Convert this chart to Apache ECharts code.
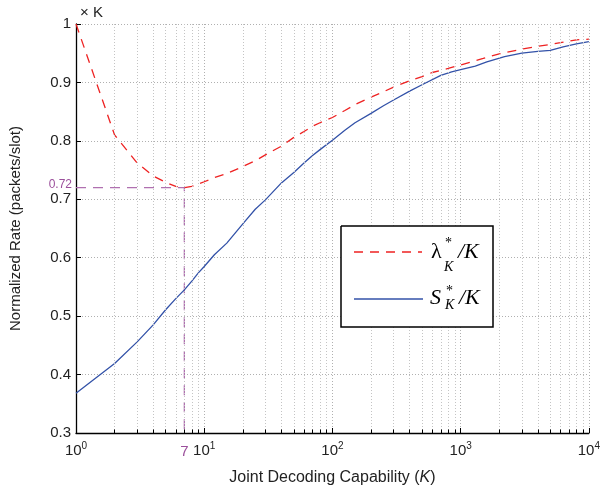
<!DOCTYPE html>
<html>
<head>
<meta charset="utf-8">
<script src="https://cdn.jsdelivr.net/npm/echarts@6/dist/echarts.min.js"></script>
<style>
  html, body { margin: 0; padding: 0; background: #fff; }
  #chart { width: 603px; height: 491px; }
</style>
</head>
<body>
<div id="chart"></div>
<script>
// Joint decoding capability K (log scale)
const kValues = [1, 2, 3, 4, 5, 6, 7, 8, 9, 10, 12, 15, 20, 25, 30, 40, 50, 60, 70, 80, 100,
  125, 150, 200, 250, 300, 400, 500, 600, 800, 1000, 1500, 2000, 3000, 4000, 5000, 6000, 8000, 10000];

// lambda*_K / K  (normalized maximum arrival rate)
const lambdaNorm = [1.000, 0.810, 0.762, 0.740, 0.729, 0.722, 0.720, 0.722, 0.726, 0.730, 0.737, 0.744,
  0.756, 0.766, 0.776, 0.791, 0.806, 0.816, 0.825, 0.831, 0.840,
  0.852, 0.862, 0.875, 0.884, 0.892, 0.903, 0.910, 0.917, 0.924, 0.930, 0.941, 0.949, 0.957, 0.962,
  0.965, 0.968, 0.973, 0.974];

// S*_K / K  (normalized throughput)
const throughputK = [1, 2, 3, 4, 5, 6, 7, 8, 9, 10, 12, 15, 20, 25, 30, 40, 50, 60, 70, 80, 100,
  125, 150, 200, 250, 300, 400, 500, 700, 850, 1000, 1300, 1600, 2200, 3000, 4000, 5000, 6300, 8000, 10000];
const throughputNorm = [0.368, 0.419, 0.456, 0.485, 0.511, 0.530, 0.545, 0.560, 0.574, 0.585, 0.605, 0.625,
  0.658, 0.683, 0.699, 0.728, 0.746, 0.762, 0.775, 0.785, 0.801,
  0.818, 0.831, 0.847, 0.860, 0.870, 0.885, 0.896, 0.912, 0.918, 0.922, 0.928, 0.935, 0.944, 0.950,
  0.953, 0.955, 0.961, 0.966, 0.970];

// Minimum of lambda*_K / K
const minK = 7;
const minRate = 0.72;

// Axis ranges and minor log ticks
const yMin = 0.3, yMax = 1, yStep = 0.1;
const xMin = 1, xMax = 10000;
const minorX = [2, 3, 4, 5, 6, 7, 8, 9, 20, 30, 40, 50, 60, 70, 80, 90,
  200, 300, 400, 500, 600, 700, 800, 900, 2000, 3000, 4000, 5000, 6000, 7000, 8000, 9000];

const pair = (xs, ys) => xs.map((x, i) => [x, ys[i]]);

const FONT = 'Liberation Sans';
const TXT = '#222';
const PURPLE = '#9b4f9b';
const RED = '#ee2222';
const BLUE = '#3352a8';

const chart = echarts.init(document.getElementById('chart'), null, { renderer: 'canvas' });

const gridDot = { color: '#b0b0b0', width: 1, type: [1, 2] };

const minorGrid = minorX.map(v => ({ xAxis: v }));
const minorTickMarks = minorX.map(v => [
  { coord: [v, yMin], lineStyle: { color: '#000', type: 'solid', width: 1 } },
  { coord: [v, yMin + 0.006] }
]);

// Legend box drawn on top of the plot
const LEG = { x: 341, y: 226, w: 152, h: 101 };
const serif = (size, italic) => (italic ? 'italic ' : '') + size + 'px "Liberation Serif"';
const legendText = (text, dx, dy, font) => ({
  type: 'text', z: 101, x: LEG.x + dx, y: LEG.y + dy,
  style: { text, font, fill: '#000', verticalAlign: 'middle' }
});

chart.setOption({
  animation: false,
  backgroundColor: '#fff',
  grid: { left: 72, right: 10, top: 24, bottom: 58, containLabel: false },
  xAxis: {
    type: 'log',
    logBase: 10,
    min: xMin,
    max: xMax,
    name: '{n|Joint Decoding Capability (}{i|K}{n|)}',
    nameLocation: 'middle',
    nameGap: 37,
    nameTextStyle: {
      rich: {
        n: { fontFamily: FONT, fontSize: 16, color: TXT },
        i: { fontFamily: FONT, fontSize: 16, color: TXT, fontStyle: 'italic' }
      }
    },
    axisLine: { show: true, onZero: false, lineStyle: { color: '#000', width: 1.3 } },
    axisTick: { show: true, inside: true, length: 5, lineStyle: { color: '#000' } },
    splitLine: { show: true, lineStyle: gridDot },
    axisLabel: {
      margin: 8,
      formatter: v => '{b|10}{s|' + Math.round(Math.log10(v)) + '}',
      rich: {
        b: { fontFamily: FONT, fontSize: 15, color: TXT },
        s: { fontFamily: FONT, fontSize: 10, color: TXT, padding: [0, 0, 9, 0] }
      }
    }
  },
  yAxis: {
    type: 'value',
    min: yMin,
    max: yMax,
    interval: yStep,
    name: 'Normalized Rate (packets/slot)',
    nameLocation: 'middle',
    nameGap: 53,
    nameRotate: 90,
    nameTextStyle: { fontFamily: FONT, fontSize: 15, color: TXT },
    axisLine: { show: true, lineStyle: { color: '#000', width: 1.3 } },
    axisTick: { show: true, inside: true, length: 5, lineStyle: { color: '#000' } },
    splitLine: { show: true, lineStyle: gridDot },
    axisLabel: {
      margin: 5,
      fontFamily: FONT,
      fontSize: 15,
      color: TXT,
      formatter: v => (Math.abs(v - 1) < 1e-9 ? '1' : v.toFixed(1))
    }
  },
  series: [
    {
      name: 'guide',
      type: 'line',
      data: [[xMin, minRate], [minK, minRate], [minK, yMin]],
      symbol: 'none',
      silent: true,
      z: 1,
      lineStyle: { color: '#b070b0', width: 1.3, type: [10, 7] },
      markLine: {
        silent: true,
        symbol: 'none',
        label: { show: false },
        animation: false,
        lineStyle: { color: '#c4c4c4', width: 1, type: [1, 2] },
        data: minorGrid.concat(minorTickMarks)
      },
      markPoint: {
        symbol: 'circle',
        symbolSize: 0,
        silent: true,
        data: [
          {
            coord: [minK, yMin],
            label: { show: true, formatter: String(minK), position: 'bottom', distance: 11,
              fontFamily: FONT, fontSize: 15, color: PURPLE }
          },
          {
            coord: [xMin, minRate],
            label: { show: true, formatter: minRate.toFixed(2), position: 'left', distance: 4,
              offset: [0, -3], fontFamily: FONT, fontSize: 12, color: PURPLE }
          }
        ]
      }
    },
    {
      name: 'lambda',
      type: 'line',
      data: pair(kValues, lambdaNorm),
      symbol: 'none',
      z: 3,
      lineStyle: { color: RED, width: 1.3, type: [9, 7] }
    },
    {
      name: 'throughput',
      type: 'line',
      data: pair(throughputK, throughputNorm),
      symbol: 'none',
      z: 3,
      lineStyle: { color: BLUE, width: 1.3 }
    }
  ],
  graphic: [
    {
      type: 'text', left: 80, top: 5, z: 100,
      style: { text: '× K', fontFamily: FONT, fontSize: 15, fill: TXT }
    },
    {
      type: 'rect', z: 100,
      shape: { x: LEG.x, y: LEG.y, width: LEG.w, height: LEG.h },
      style: { fill: '#fff', stroke: 'none' }
    },
    {
      type: 'polyline', z: 102,
      shape: { points: [[LEG.x, LEG.y], [LEG.x + LEG.w, LEG.y], [LEG.x + LEG.w, LEG.y + LEG.h],
        [LEG.x, LEG.y + LEG.h], [LEG.x, LEG.y]] },
      style: { stroke: '#000', lineWidth: 1.5, fill: null, lineDash: null }
    },
    { type: 'line', z: 101, shape: { x1: LEG.x + 13, y1: LEG.y + 26, x2: LEG.x + 81, y2: LEG.y + 26 },
      style: { stroke: RED, lineWidth: 1.3, lineDash: [9, 7] } },
    { type: 'line', z: 101, shape: { x1: LEG.x + 13, y1: LEG.y + 73, x2: LEG.x + 82, y2: LEG.y + 73 },
      style: { stroke: BLUE, lineWidth: 1.3 } },
    legendText('λ', 90, 26, serif(22, false)),
    legendText('*', 104, 17, serif(14, false)),
    legendText('K', 103, 41, serif(14, true)),
    legendText('/K', 117, 26, serif(22, true)),
    legendText('S', 89, 72, serif(22, true)),
    legendText('*', 105, 65, serif(14, false)),
    legendText('K', 104, 79, serif(14, true)),
    legendText('/K', 118, 72, serif(22, true))
  ]
});
</script>
</body>
</html>
